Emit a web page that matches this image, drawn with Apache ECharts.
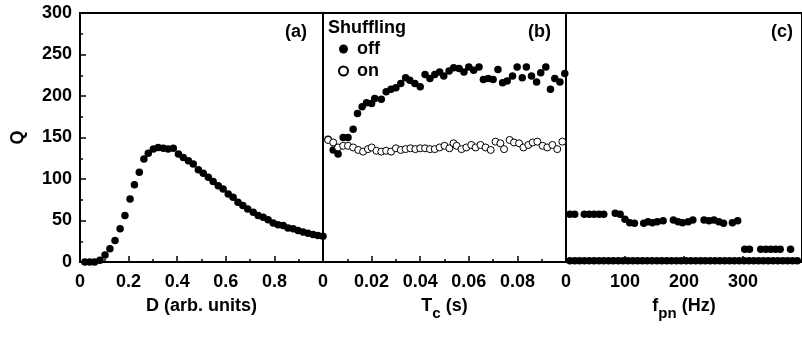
<!DOCTYPE html>
<html>
<head>
<meta charset="utf-8">
<script src="https://cdn.jsdelivr.net/npm/echarts@6/dist/echarts.min.js"></script>
<style>
html,body{margin:0;padding:0;background:#fff;}
#chart{width:802px;height:337px;}
</style>
</head>
<body>
<div id="chart"></div>
<script>
// Panel (a): Q vs D
const aD = [0.02,0.04,0.06,0.082,0.103,0.123,0.144,0.165,0.185,0.206,0.224,0.244,0.263,0.281,0.302,0.322,0.343,0.363,0.384,0.405,0.425,0.446,0.466,0.487,0.507,0.528,0.548,0.569,0.589,0.610,0.630,0.650,0.670,0.690,0.713,0.733,0.754,0.774,0.795,0.815,0.836,0.856,0.877,0.897,0.918,0.938,0.959,0.979,1.0];
const aQ = [0,0,0,2,8.5,16,26,40,56,76,93,108,124,131,136,138,137,136,137,130,126,122,118,111,107,102,97,92,88,82,78,72,68,64,60,56,54,51,47,45,44,41,40,38,36,34.5,33,32,31];

// Panel (b): Q vs Tc, shuffling off / on
const bOffT = [0.0021,0.0042,0.0062,0.0083,0.0103,0.0124,0.0142,0.0161,0.0179,0.0200,0.0213,0.0240,0.0260,0.0280,0.0300,0.0320,0.0340,0.0357,0.0378,0.0400,0.0420,0.0440,0.0460,0.0480,0.0497,0.0519,0.0538,0.0560,0.0580,0.0600,0.0620,0.0642,0.0660,0.0680,0.0700,0.0720,0.0739,0.0758,0.0780,0.0799,0.0820,0.0837,0.0858,0.0879,0.0896,0.0917,0.0936,0.0954,0.0975,0.0995];
const bOffQ = [148,135,130,150,150,160,179,187,192,191,197,196,205,208,210,215,222,219,215,211,226,221,226,229,224,230,234,233,229,235,231,235,220,221,220,232,216,218,224,235,222,235,224,217,228,235,208,221,217,227];
const bOnT = [0.0021,0.0042,0.0062,0.0083,0.0103,0.0124,0.0145,0.0165,0.0185,0.0200,0.0220,0.0240,0.0260,0.0280,0.0300,0.0320,0.0340,0.0360,0.0380,0.0400,0.0420,0.0440,0.0460,0.0480,0.0500,0.0520,0.0537,0.0550,0.0570,0.0590,0.0610,0.0628,0.0648,0.0669,0.0690,0.0710,0.0730,0.0745,0.0768,0.0786,0.0807,0.0825,0.0845,0.0863,0.0882,0.0904,0.0923,0.0944,0.0964,0.0985];
const bOnQ = [147,144,138,140,140,138,135,133,136,138,134,133,134,133,137,135,136,137,136,137,137,136,136,138,140,137,143,140,136,138,141,138,141,138,135,145,143,136,147,144,143,138,141,144,145,140,138,141,136,145];

// Panel (c): Q vs f_pn
const cHighF = [6.6,14.8,31,39.5,47.7,56,64,83.4,91.7,99.9,108,116,131.7,139,146.5,154.7,164.6,182,190,197.5,207,215,234,242.5,250.7,259,267,282,291,303,311,330,338.6,346.8,355,363,380.6];
const cHighQ = [57.5,57.5,57.5,57.5,57.5,57.5,57.5,58.6,57.5,51.4,47.4,46.6,46.6,48.6,47.4,48.6,49.8,50.6,48.6,47.4,48.6,50.6,50.6,49.8,50.6,48.6,46.6,47.4,49.8,15.3,15.3,15.3,15.3,15.3,15.3,15.3,15.3];
const cLowF = [6.6,14.8,23,31.2,39.4,47.6,55.8,64,72.2,80.4,88.6,96.8,105,113.2,121.4,129.6,137.8,146,154.2,162.4,170.6,178.8,187,195.2,203.4,211.6,219.8,228,236.2,244.4,252.6,260.8,269,277.2,285.4,293.6,301.8,310,318.2,326.4,334.6,342.8,351,359.2,367.4,375.6,383.8,392];
const cLowQ = [1.5,1.5,1.5,1.5,1.5,1.5,1.5,1.5,1.5,1.5,1.5,1.5,1.5,1.5,1.5,1.5,1.5,1.5,1.5,1.5,1.5,1.5,1.5,1.5,1.5,1.5,1.5,1.5,1.5,1.5,1.5,1.5,1.5,1.5,1.5,1.5,1.5,1.5,1.5,1.5,1.5,1.5,1.5,1.5,1.5,1.5,1.5,1.5];

// Axis ticks
const yTicks = {min: 0, max: 300, interval: 50};
const xTicksA = {min: 0, max: 1, interval: 0.2};
const xTicksB = {min: 0, max: 0.1, interval: 0.02};
const xTicksC = {min: 0, max: 400, interval: 100};

const FONT = '"Liberation Sans", Arial, Helvetica, sans-serif';
const zip = (xs, ys) => xs.map((x, i) => [x, ys[i]]);

const rich = {
  m: {fontFamily: FONT, fontSize: 18, fontWeight: 'bold', color: '#000', lineHeight: 18, verticalAlign: 'top'},
  s: {fontFamily: FONT, fontSize: 15, fontWeight: 'bold', color: '#000', lineHeight: 24, verticalAlign: 'bottom'}
};
const labelStyle = {fontFamily: FONT, fontSize: 18, fontWeight: 'bold', color: '#000'};
const black = {color: '#000', width: 2};

function xAxis(idx, ticks, name) {
  return Object.assign({
    gridIndex: idx, type: 'value',
    axisLine: {show: true, lineStyle: black},
    axisTick: {show: true, inside: true, length: 6, lineStyle: {color: '#000', width: 1.5}},
    minorTick: {show: true, splitNumber: 2, length: 3, lineStyle: {color: '#000', width: 1.5}},
    splitLine: {show: false},
    axisLabel: Object.assign({margin: 11, showMaxLabel: false}, labelStyle),
    name: name, nameLocation: 'middle', nameGap: 35,
    nameTextStyle: {rich: rich}
  }, ticks);
}
function yAxis(idx, first) {
  return Object.assign({
    gridIndex: idx, type: 'value',
    axisLine: {show: true, lineStyle: black},
    axisTick: {show: first, inside: true, length: 6, lineStyle: {color: '#000', width: 1.5}},
    minorTick: {show: first, splitNumber: 2, length: 3, lineStyle: {color: '#000', width: 1.5}},
    splitLine: {show: false},
    axisLabel: Object.assign({show: first, margin: 8}, labelStyle),
    name: first ? 'Q' : '', nameLocation: 'middle', nameGap: 53, nameRotate: 90,
    nameTextStyle: labelStyle
  }, yTicks);
}

const dot = {color: '#000', opacity: 1};

const chart = echarts.init(document.getElementById('chart'));
chart.setOption({
  animation: false,
  backgroundColor: '#fff',
  grid: [
    {left: 80, top: 13, width: 243, height: 249, show: true, borderColor: '#000', borderWidth: 2},
    {left: 323, top: 13, width: 243, height: 249, show: true, borderColor: '#000', borderWidth: 2},
    {left: 566, top: 13, width: 243, height: 249, show: true, borderColor: '#000', borderWidth: 2}
  ],
  xAxis: [
    xAxis(0, xTicksA, '{m|D (arb. units)}'),
    xAxis(1, xTicksB, '{m|T}{s|c}{m| (s)}'),
    xAxis(2, xTicksC, '{m|f}{s|pn}{m| (Hz)}')
  ],
  yAxis: [yAxis(0, true), yAxis(1, false), yAxis(2, false)],
  legend: {
    data: ['off', 'on'], orient: 'vertical', left: 338, top: 40,
    itemWidth: 9, itemHeight: 9, itemGap: 4, padding: 0,
    textStyle: Object.assign({lineHeight: 18, padding: [0, 0, 0, 4]}, labelStyle)
  },
  graphic: [
    {type: 'text', left: 328, top: 19, style: {text: 'Shuffling', font: 'bold 18px ' + FONT, fill: '#000'}},
    {type: 'text', left: 285, top: 23, style: {text: '(a)', font: 'bold 18px ' + FONT, fill: '#000'}},
    {type: 'text', left: 528, top: 23, style: {text: '(b)', font: 'bold 18px ' + FONT, fill: '#000'}},
    {type: 'text', left: 771, top: 23, style: {text: '(c)', font: 'bold 18px ' + FONT, fill: '#000'}}
  ],
  series: [
    {type: 'scatter', name: 'D scan', xAxisIndex: 0, yAxisIndex: 0, symbolSize: 7.5,
     itemStyle: dot, data: zip(aD, aQ)},
    {type: 'scatter', name: 'off', xAxisIndex: 1, yAxisIndex: 1, symbolSize: 7.5,
     itemStyle: dot, data: zip(bOffT, bOffQ)},
    {type: 'scatter', name: 'on', xAxisIndex: 1, yAxisIndex: 1, symbolSize: 7,
     itemStyle: {color: '#fff', borderColor: '#000', borderWidth: 1, opacity: 1}, data: zip(bOnT, bOnQ)},
    {type: 'scatter', name: 'fpn high', xAxisIndex: 2, yAxisIndex: 2, symbolSize: 7.5,
     itemStyle: dot, data: zip(cHighF, cHighQ)},
    {type: 'scatter', name: 'fpn low', xAxisIndex: 2, yAxisIndex: 2, symbolSize: 7.5,
     itemStyle: dot, data: zip(cLowF, cLowQ)}
  ]
});
</script>
</body>
</html>
